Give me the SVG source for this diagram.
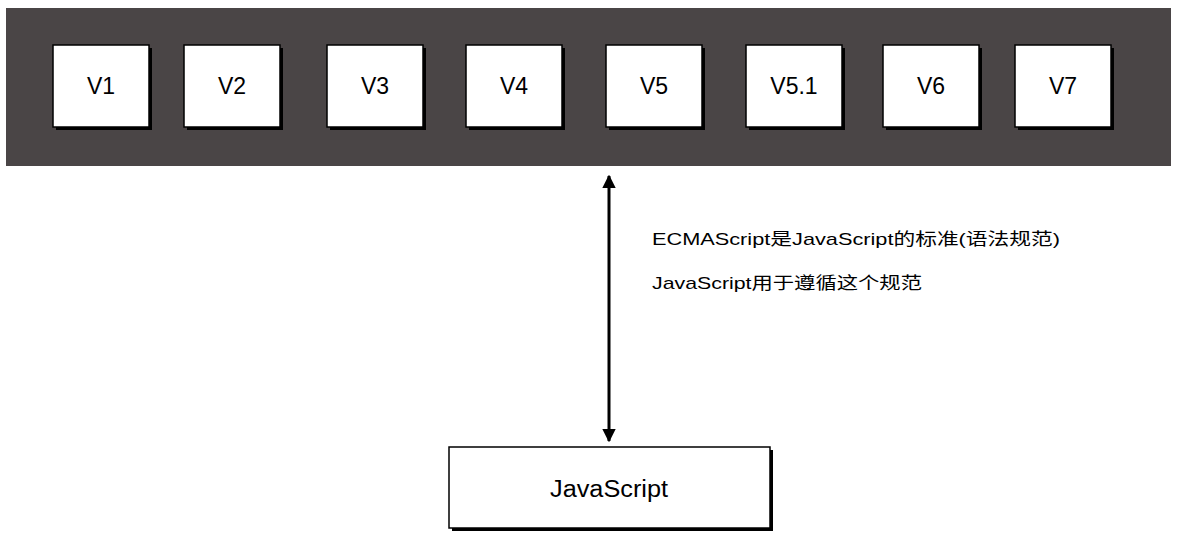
<svg xmlns="http://www.w3.org/2000/svg" width="1183" height="540" viewBox="0 0 1183 540">
<defs>
<style>
.box{fill:#fff;stroke:#000;stroke-width:1.5}
.shadow{fill:#000}
.lbl{font-family:"Liberation Sans","Noto Sans",sans-serif;font-size:23px;fill:#000;text-anchor:middle;dominant-baseline:central}
.note{font-family:"Liberation Sans","Noto Sans CJK SC",sans-serif;font-size:17px;fill:#000}
.conn{stroke:#000;stroke-width:3;fill:none}
</style>
<marker id="ah" viewBox="0 0 10 10" refX="9" refY="5" markerWidth="4.5" markerHeight="4.5" orient="auto-start-reverse" markerUnits="strokeWidth">
<path d="M0,0 L10,5 L0,10 z" fill="#000"/>
</marker>
</defs>
<rect id="panel" x="6" y="8" width="1165" height="158" fill="#4a4546"/>
<g id="v1"><rect class="shadow" x="56" y="48" width="96" height="82"/><rect class="box" x="53" y="45" width="96" height="82"/><text class="lbl" x="101" y="86">V1</text></g>
<g id="v2"><rect class="shadow" x="187" y="48" width="96" height="82"/><rect class="box" x="184" y="45" width="96" height="82"/><text class="lbl" x="232" y="86">V2</text></g>
<g id="v3"><rect class="shadow" x="330" y="48" width="96" height="82"/><rect class="box" x="327" y="45" width="96" height="82"/><text class="lbl" x="375" y="86">V3</text></g>
<g id="v4"><rect class="shadow" x="469" y="48" width="96" height="82"/><rect class="box" x="466" y="45" width="96" height="82"/><text class="lbl" x="514" y="86">V4</text></g>
<g id="v5"><rect class="shadow" x="609" y="48" width="96" height="82"/><rect class="box" x="606" y="45" width="96" height="82"/><text class="lbl" x="654" y="86">V5</text></g>
<g id="v51"><rect class="shadow" x="749" y="48" width="96" height="82"/><rect class="box" x="746" y="45" width="96" height="82"/><text class="lbl" x="794" y="86">V5.1</text></g>
<g id="v6"><rect class="shadow" x="886" y="48" width="96" height="82"/><rect class="box" x="883" y="45" width="96" height="82"/><text class="lbl" x="931" y="86">V6</text></g>
<g id="v7"><rect class="shadow" x="1018" y="48" width="96" height="82"/><rect class="box" x="1015" y="45" width="96" height="82"/><text class="lbl" x="1063" y="86">V7</text></g>
<g id="js"><rect class="shadow" x="452" y="450" width="321" height="81"/><rect class="box" x="449" y="447" width="321" height="81"/><text class="lbl" x="609" y="489" textLength="118" lengthAdjust="spacingAndGlyphs">JavaScript</text></g>
<g id="connectors">
<line class="conn" x1="609" y1="176" x2="609" y2="441" marker-start="url(#ah)" marker-end="url(#ah)"/>
</g>
<g id="notes">
<text class="note" x="652" y="245" textLength="408" lengthAdjust="spacingAndGlyphs">ECMAScript是JavaScript的标准(语法规范)</text>
<text class="note" x="652" y="289" textLength="270" lengthAdjust="spacingAndGlyphs">JavaScript用于遵循这个规范</text>
</g>
</svg>
